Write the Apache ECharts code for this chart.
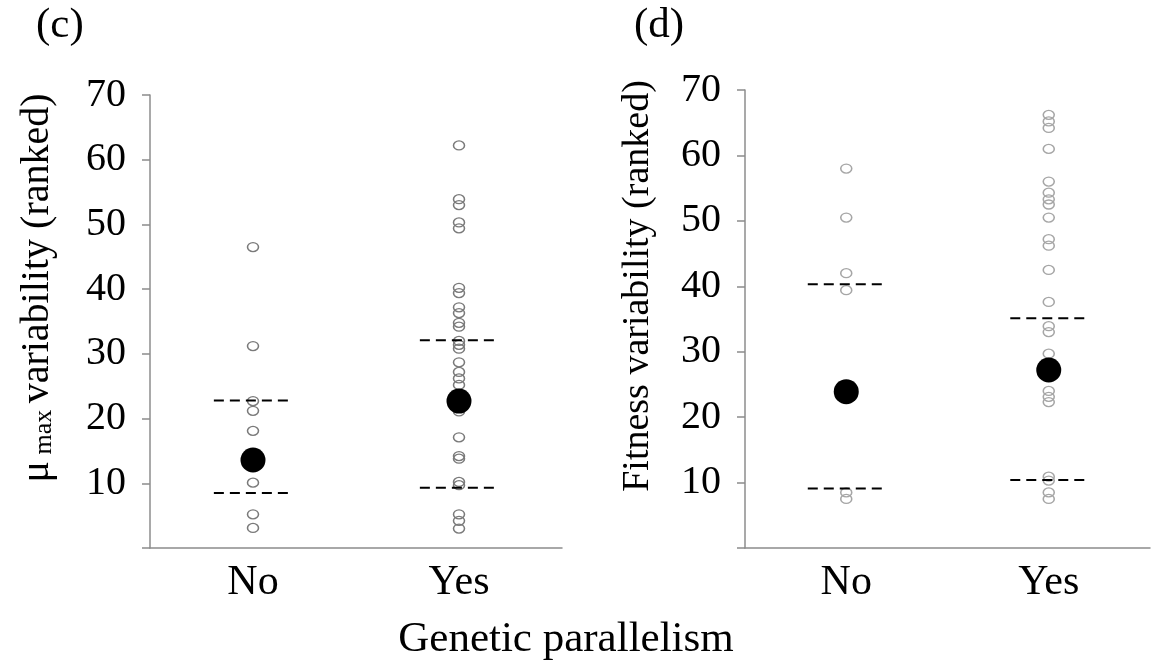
<!DOCTYPE html>
<html>
<head>
<meta charset="utf-8">
<script src="https://cdn.jsdelivr.net/npm/echarts@6/dist/echarts.min.js"></script>
<style>
  html, body { margin: 0; padding: 0; background: #fff; }
  #chart { width: 1153px; height: 664px; }
</style>
</head>
<body>
<div id="chart"></div>
<script>
// Groups on the x axis (placed at x = 1 and x = 2)
const categories = ['No', 'Yes'];
const categoryX = [1, 2];

// Panel (c): ranked mu_max variability per replicate
const cNo = [46.5, 31.2, 22.7, 21.2, 18.1, 10.1, 5.2, 3.1];
const cYes = [62.2, 53.9, 53.0, 50.3, 49.4, 40.2, 39.4, 37.2, 36.3, 34.8, 34.2,
              32.0, 31.4, 30.8, 28.7, 27.2, 26.2, 25.2, 21.1, 17.1, 14.2, 13.8,
              10.2, 9.7, 5.2, 4.2, 3.0];
const cMean = [13.6, 22.7];
const cUpper = [22.8, 32.1];
const cLower = [8.5, 9.3];

// Panel (d): ranked fitness variability per replicate
const dNo = [58.0, 50.5, 42.0, 39.4, 8.5, 7.5];
const dYes = [66.2, 65.2, 64.2, 61.0, 56.0, 54.3, 53.3, 52.5, 50.5, 47.2, 46.2,
              42.5, 37.6, 33.9, 33.0, 29.7, 24.0, 23.1, 22.3, 10.9, 10.3, 8.5, 7.5];
const dMean = [23.9, 27.2];
const dUpper = [40.3, 35.1];
const dLower = [9.1, 10.4];

const FONT = 'Liberation Serif, Times New Roman, serif';
const AXIS_GREY = '#8c8c8c';
const HALF = 0.19; // half-length of the dashed reference segments, in x units

function xAxisFor(grid) {
  return {
    type: 'value', gridIndex: grid, min: 0.5, max: 2.5, interval: 0.5,
    axisLine: { show: true, onZero: false, lineStyle: { color: AXIS_GREY, width: 1.5 } },
    axisTick: { show: false },
    splitLine: { show: false },
    axisLabel: {
      margin: 14, fontFamily: FONT, fontSize: 42, color: '#000',
      formatter: v => {
        const i = categoryX.indexOf(v);
        return i >= 0 ? categories[i] : '';
      }
    }
  };
}

function yAxisFor(grid) {
  return {
    type: 'value', gridIndex: grid, min: 0, max: 70, interval: 10,
    axisLine: { show: true, lineStyle: { color: AXIS_GREY, width: 1.5 } },
    axisTick: { show: true, length: 8, lineStyle: { color: AXIS_GREY, width: 1.5 } },
    splitLine: { show: false },
    axisLabel: {
      margin: 24, fontFamily: FONT, fontSize: 40, color: '#000',
      formatter: v => (v === 0 ? '' : String(v))
    }
  };
}

function points(grid, x, values, colour) {
  return {
    type: 'scatter', xAxisIndex: grid, yAxisIndex: grid, z: 2,
    symbol: 'circle', symbolSize: [11, 9],
    itemStyle: { color: 'rgba(255,255,255,0)', borderColor: colour, borderWidth: 1.4, opacity: 1 },
    data: values.map(v => [x, v])
  };
}

function dashed(grid, x, value) {
  return {
    type: 'line', xAxisIndex: grid, yAxisIndex: grid, z: 3,
    symbol: 'none',
    lineStyle: { color: '#000', width: 2, type: [10, 6] },
    data: [[x - HALF, value], [x + HALF, value]]
  };
}

function means(grid, values) {
  return {
    type: 'scatter', xAxisIndex: grid, yAxisIndex: grid, z: 4,
    symbol: 'circle', symbolSize: 25,
    itemStyle: { color: '#000', opacity: 1 },
    data: values.map((v, i) => [categoryX[i], v])
  };
}

const series = [
  points(0, categoryX[0], cNo, '#7a7a7a'),
  points(0, categoryX[1], cYes, '#7a7a7a'),
  points(1, categoryX[0], dNo, '#a6a6a6'),
  points(1, categoryX[1], dYes, '#a6a6a6')
];
categoryX.forEach((x, i) => {
  series.push(dashed(0, x, cUpper[i]), dashed(0, x, cLower[i]));
  series.push(dashed(1, x, dUpper[i]), dashed(1, x, dLower[i]));
});
series.push(means(0, cMean), means(1, dMean));

const chart = echarts.init(document.getElementById('chart'), null, { renderer: 'canvas' });
chart.setOption({
  animation: false,
  backgroundColor: '#fff',
  grid: [
    { left: 150, top: 95, width: 412, height: 453 },
    { left: 745, top: 90, width: 418, height: 458 }
  ],
  xAxis: [xAxisFor(0), xAxisFor(1)],
  yAxis: [yAxisFor(0), yAxisFor(1)],
  series: series,
  graphic: [
    { type: 'text', left: 36, top: 4,
      style: { text: '(c)', fontFamily: FONT, fontSize: 43, fill: '#000' } },
    { type: 'text', left: 634, top: 4,
      style: { text: '(d)', fontFamily: FONT, fontSize: 43, fill: '#000' } },
    { type: 'text', x: 37, y: 288, rotation: Math.PI / 2,
      style: {
        text: '{mu|\u03bc}{sub| max }{main|variability (ranked)}',
        align: 'center', verticalAlign: 'middle', fill: '#000',
        rich: {
          mu: { fontFamily: FONT, fontSize: 40, lineHeight: 40, verticalAlign: 'bottom' },
          sub: { fontFamily: FONT, fontSize: 26, lineHeight: 24, verticalAlign: 'bottom' },
          main: { fontFamily: FONT, fontSize: 40, lineHeight: 40, verticalAlign: 'bottom' }
        }
      } },
    { type: 'text', x: 638, y: 286, rotation: Math.PI / 2,
      style: {
        text: 'Fitness variability (ranked)', fontFamily: FONT, fontSize: 38,
        align: 'center', verticalAlign: 'middle', fill: '#000'
      } },
    { type: 'text', x: 566, y: 640,
      style: {
        text: 'Genetic parallelism', fontFamily: FONT, fontSize: 43,
        align: 'center', verticalAlign: 'middle', fill: '#000'
      } }
  ]
});
</script>
</body>
</html>
